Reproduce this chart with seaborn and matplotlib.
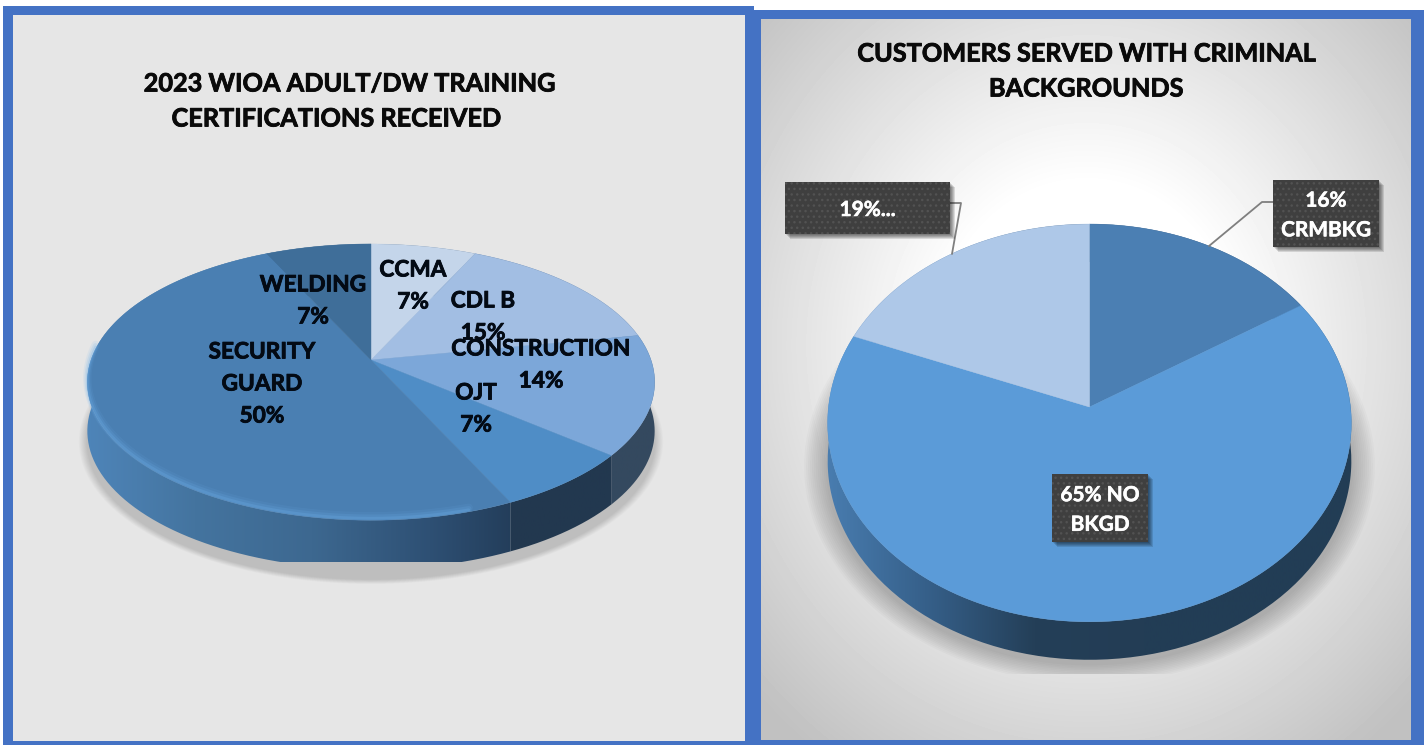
import matplotlib
matplotlib.use('Agg')
import matplotlib.patheffects as pe
import matplotlib.pyplot as plt
import numpy as np
import seaborn as sns
from matplotlib.patches import Rectangle
from matplotlib.path import Path

# Left chart data
cert_names = ['CCMA', 'CDL B', 'CONSTRUCTION', 'OJT', 'SECURITY\nGUARD', 'WELDING']
cert_values = [7, 15, 14, 7, 50, 7]
cert_title = ['2023 WIOA ADULT/DW TRAINING', 'CERTIFICATIONS RECEIVED']

# Right chart data
crim_labels = ['16%\nCRMBKG', '65% NO\nBKGD', '19%...']
crim_values = [16, 65, 19]
crim_title = ['CUSTOMERS SERVED WITH CRIMINAL', 'BACKGROUNDS']

cert_colors = ['#c4d5ea', '#a2bee3', '#7ca7d9', '#4f8dc6', '#4a7fb2', '#3f6e99']
crim_colors = ['#4b7fb3', '#5b9bd8', '#aec8e8']
blue = '#4472c4'

sns.set_theme(style='white')
plt.rcParams['font.family'] = ['Lato', 'DejaVu Sans']
plt.rcParams['hatch.linewidth'] = 1.0

fig = plt.figure(figsize=(14.24, 7.45), dpi=100, facecolor='white')
ax = fig.add_axes([0, 0, 1, 1])


def reset_axes():
    ax.set_aspect('auto')
    ax.set_xlim(0, 1424)
    ax.set_ylim(745, 0)
    ax.axis('off')


def project(x, y, geo):
    # simple perspective so the front of the pie looks bigger than the back
    s = 1 / (1 + geo['k'] * y)
    return geo['cx'] + geo['rx'] * x * s, geo['cy'] - geo['a'] * y * s


def arc_points(t1, t2, geo, n=200):
    t = np.radians(np.linspace(t1, t2, n))
    return project(np.cos(t), np.sin(t), geo)


def soft_shadow(geo, layers, clip_bottom=None):
    for i in range(layers):
        grow = 1 + (layers - i) * geo['grow']
        g = dict(geo, rx=geo['rx'] * grow, a=geo['a'] * grow)
        px, py = arc_points(0, 360, g, 300)
        py = py + geo['depth'] + geo['shadow_drop']
        poly, = ax.fill(px, py, color='black', alpha=geo['shadow_alpha'], lw=0, zorder=2)
        if clip_bottom is not None:
            poly.set_clip_path(Rectangle((0, 0), 1424, clip_bottom, transform=ax.transData))


def draw_pie(values, colors, side_maps, geo):
    wedges, _ = ax.pie(values, colors=colors, startangle=90, counterclock=False, radius=1)
    for w, side in zip(wedges, side_maps):
        t1, t2 = w.theta1, w.theta2
        w.remove()
        px, py = arc_points(t1, t2, geo)
        # side band under the wedge
        bx = np.r_[px, px[::-1]]
        by = np.r_[py, (py + geo['depth'])[::-1]]
        band = Path(np.c_[bx, by])
        x0, x1 = geo['cx'] - geo['rx'] * 1.05, geo['cx'] + geo['rx'] * 1.05
        y0, y1 = geo['cy'] - geo['a'] * 1.3, geo['cy'] + geo['a'] * 1.5
        im = ax.imshow(np.linspace(0, 1, 256)[None, :], cmap=side, extent=(x0, x1, y1, y0),
                       aspect='auto', zorder=3, vmin=0, vmax=1)
        im.set_clip_path(band, transform=ax.transData)
    for w, c in zip(wedges, colors):
        px, py = arc_points(w.theta1, w.theta2, geo)
        ox, oy = project(0, 0, geo)
        ax.fill(np.r_[ox, px], np.r_[oy, py], color=c, lw=0.3, ec=c, zorder=4)
    reset_axes()
    return wedges


def bold_text(x, y, text, fs, color, spacing=1.2, stroke=0.6):
    ax.text(x, y, text, fontsize=fs, fontweight='bold', color=color, ha='center', va='center',
            linespacing=spacing, zorder=9,
            path_effects=[pe.withStroke(linewidth=stroke, foreground=color)])


def callout(x0, y0, x1, y1, text, fs):
    for i in range(5):
        ax.add_patch(Rectangle((x0 + 1 + i, y0 + 1 + i), x1 - x0, y1 - y0, color='black',
                               alpha=0.12, lw=0, zorder=6))
    ax.add_patch(Rectangle((x0, y0), x1 - x0, y1 - y0, facecolor='#3f3f3f', edgecolor='#525252',
                           hatch='...', lw=0, zorder=7))
    bold_text((x0 + x1) / 2, (y0 + y1) / 2 + 2, text, fs, 'white', spacing=1.6, stroke=0.4)


reset_axes()

# panels
ax.add_patch(Rectangle((3, 6), 751, 739, color=blue, lw=0, zorder=0))
ax.add_patch(Rectangle((754, 10), 670, 735, color=blue, lw=0, zorder=0))
ax.add_patch(Rectangle((13, 15), 732, 726, color='#e6e6e6', lw=0, zorder=1))

# right panel radial background
xx, yy = np.meshgrid(np.arange(761, 1411), np.arange(19, 740))
dist = np.sqrt(((xx - 1086) / 325) ** 2 + ((yy - 345) / 360) ** 2)
shade = 255 - 62 * np.clip((dist - 0.45) / 0.95, 0, 1)
ax.imshow(shade, cmap='gray', vmin=0, vmax=255, extent=(761, 1411, 740, 19), aspect='auto', zorder=1)
reset_axes()

# left pie
geo_left = dict(cx=371, cy=360, rx=280, a=134.6, k=0.16, depth=49,
                grow=0.003, shadow_drop=10, shadow_alpha=0.016)
soft_shadow(geo_left, 10)
dark_left = sns.blend_palette(['#3a5f86', '#34495f', '#34495f'], as_cmap=True)
ojt_side = sns.blend_palette(['#22384f', '#22384f'], as_cmap=True)
sec_side = sns.blend_palette(['#4f86bb', '#44749f', '#3d6890', '#2e5074', '#1f3650', '#1f3650'],
                             as_cmap=True)
w_left = draw_pie(cert_values, cert_colors,
                  [dark_left, dark_left, dark_left, ojt_side, sec_side, sec_side], geo_left)

# lighter bevel along the front left rim, kept inside the surface
sec = w_left[4]
px, py = arc_points(sec.theta1 + 60, sec.theta2 - 8, geo_left)
for lw, al, off in zip([6, 4, 2], [0.10, 0.16, 0.25], [-4, -3, -2]):
    ax.plot(px, py + off, color='#6fb0ea', lw=lw, alpha=al, zorder=5, solid_capstyle='round')

# right pie
geo_right = dict(cx=1089.5, cy=407, rx=261, a=197.6, k=0.08, depth=38,
                 grow=0.0075, shadow_drop=4, shadow_alpha=0.018)
soft_shadow(geo_right, 12, clip_bottom=674)
right_side = sns.blend_palette(['#4b80b4', '#36608a', '#243f58', '#233d55', '#223d55', '#223d55'],
                               as_cmap=True)
draw_pie(crim_values, crim_colors, [right_side, right_side, right_side], geo_right)

# titles
bold_text(349, 84, cert_title[0], 18.2, '#0a0a0a')
bold_text(336, 119, cert_title[1], 18.2, '#0a0a0a')
bold_text(1086, 54, crim_title[0], 18.2, '#0a0a0a')
bold_text(1086, 89, crim_title[1], 18.2, '#0a0a0a')

# left pie labels
label_pos = [(413, 286), (483, 317), (541, 365), (476, 409), (262, 384), (313, 301)]
for name, val, (x, y) in zip(cert_names, cert_values, label_pos):
    bold_text(x, y, f'{name}\n{val}%', 16.3, '#030a14', spacing=1.65)

# leader lines and callouts on the right pie
ax.plot([950, 961, 952], [203, 203, 254], color='#7f7f7f', lw=1.3, zorder=5)
ax.plot([1273, 1262, 1209], [202, 202, 246], color='#7f7f7f', lw=1.3, zorder=5)
callout(1273, 180, 1379, 247, crim_labels[0], 15)
callout(1052, 474, 1148, 542, crim_labels[1], 15)
callout(785, 182, 950, 234, crim_labels[2], 15)

fig.savefig('out.png', dpi=100)
